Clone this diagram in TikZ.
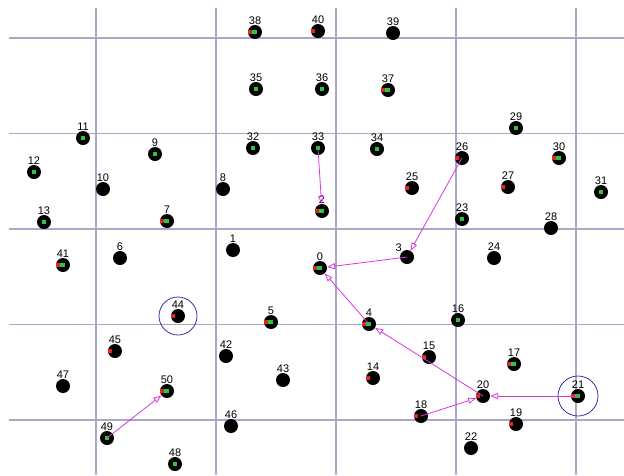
\documentclass[tikz,border=0pt]{standalone}
\usepackage{fontspec}
\setmainfont{Liberation Sans}
\usetikzlibrary{arrows.meta}

\definecolor{gridgray}{RGB}{168,168,200}
\definecolor{linkpink}{RGB}{215,55,225}
\definecolor{ringblue}{RGB}{50,50,170}
\definecolor{spotgreen}{RGB}{40,200,60}
\definecolor{spotred}{RGB}{225,40,30}

\begin{document}
\begin{tikzpicture}[
    x=1pt, y=-1pt,
    gridline/.style={
        gridgray,
        line width=1.1pt
    },
    num/.style={
        font=\fontsize{11}{11}\selectfont,
        inner sep=0pt
    },
    mote/.style={
        circle,
        fill=black,
        minimum size=14pt,
        inner sep=0pt,
        label distance=2pt
    },
    greenmote/.style={
        mote,
        path picture={
            \fill[spotgreen]
                ([shift={(-2.5pt,-2pt)}]path picture bounding box.center)
                rectangle ++(4.5pt,4pt);
        }
    },
    redmote/.style={
        mote,
        path picture={
            \fill[spotred]
                ([shift={(-8pt,-1.8pt)}]path picture bounding box.center)
                rectangle ++(5pt,3.6pt);
        }
    },
    bothmote/.style={
        mote,
        path picture={
            \fill[spotred]
                ([shift={(-8pt,-1.8pt)}]path picture bounding box.center)
                rectangle ++(5pt,3.6pt);
            \fill[spotgreen]
                ([shift={(-3pt,-2pt)}]path picture bounding box.center)
                rectangle ++(4.5pt,4pt);
        }
    },
    link/.style={
        -{Triangle[open,length=8pt,width=6pt]},
        linkpink,
        line width=0.8pt
    },
    ring/.style={
        ringblue,
        line width=0.8pt
    }
]

\useasboundingbox (0,0) rectangle (624,475);

% Ends of the grid lines
\def\GridTop{8}
\def\GridLeft{9}

% ==================================================
% Grid
% ==================================================

\draw[gridline] (96,\GridTop)  -- (96,475);
\draw[gridline] (216,\GridTop) -- (216,475);
\draw[gridline] (336,\GridTop) -- (336,475);
\draw[gridline] (456,\GridTop) -- (456,475);
\draw[gridline] (576,\GridTop) -- (576,475);

\draw[gridline] (\GridLeft,38)    -- (624,38);
\draw[gridline] (\GridLeft,133.5) -- (624,133.5);
\draw[gridline] (\GridLeft,229)   -- (624,229);
\draw[gridline] (\GridLeft,324.5) -- (624,324.5);
\draw[gridline] (\GridLeft,420)   -- (624,420);

% ==================================================
% Sensor nodes
% ==================================================

% top row
\node[bothmote,  label={[num]above:38}] (n38) at (255,32) {};
\node[redmote,   label={[num]above:40}] (n40) at (318,31) {};
\node[mote,      label={[num]above:39}] (n39) at (393,33) {};

\node[greenmote, label={[num]above:35}] (n35) at (256,89) {};
\node[greenmote, label={[num]above:36}] (n36) at (322,89) {};
\node[bothmote,  label={[num]above:37}] (n37) at (388,90) {};

\node[greenmote, label={[num]above:11}] (n11) at (83,138) {};
\node[greenmote, label={[num]above:9}]  (n9)  at (155,154) {};
\node[greenmote, label={[num]above:32}] (n32) at (253,148) {};
\node[greenmote, label={[num]above:33}] (n33) at (318,148) {};
\node[greenmote, label={[num]above:34}] (n34) at (377,149) {};
\node[greenmote, label={[num]above:29}] (n29) at (516,128) {};
\node[redmote,   label={[num]above:26}] (n26) at (462,158) {};
\node[bothmote,  label={[num]above:30}] (n30) at (559,158) {};

% second band
\node[greenmote, label={[num]above:12}] (n12) at (34,172) {};
\node[mote,      label={[num]above:10}] (n10) at (103,189) {};
\node[mote,      label={[num]above:8}]  (n8)  at (223,189) {};
\node[redmote,   label={[num]above:25}] (n25) at (412,188) {};
\node[redmote,   label={[num]above:27}] (n27) at (508,187) {};
\node[greenmote, label={[num]above:31}] (n31) at (601,192) {};
\node[greenmote, label={[num]above:13}] (n13) at (44,222) {};
\node[bothmote,  label={[num]above:7}]  (n7)  at (167,221) {};
\node[bothmote,  label={[num]above:2}]  (n2)  at (322,211) {};
\node[greenmote, label={[num]above:23}] (n23) at (462,219) {};
\node[mote,      label={[num]above:28}] (n28) at (551,228) {};

% middle band
\node[mote,      label={[num]above:1}]  (n1)  at (233,250) {};
\node[mote,      label={[num]above:6}]  (n6)  at (120,258) {};
\node[bothmote,  label={[num]above:41}] (n41) at (63,265) {};
\node[mote,      label={[num]above left:3}] (n3) at (407,257) {};
\node[mote,      label={[num]above:24}] (n24) at (494,258) {};
\node[bothmote,  label={[num]above:0}]  (n0)  at (320,268) {};

\node[redmote,   label={[num]above:44}] (n44) at (178,316) {};
\node[bothmote,  label={[num]above:5}]  (n5)  at (271,322) {};
\node[bothmote,  label={[num]above:4}]  (n4)  at (369,324) {};
\node[greenmote, label={[num]above:16}] (n16) at (458,320) {};

% lower band
\node[redmote,   label={[num]above:45}] (n45) at (115,351) {};
\node[mote,      label={[num]above:42}] (n42) at (226,356) {};
\node[redmote,   label={[num]above:15}] (n15) at (429,357) {};
\node[bothmote,  label={[num]above:17}] (n17) at (514,364) {};
\node[mote,      label={[num]above:47}] (n47) at (63,386) {};
\node[bothmote,  label={[num]above:50}] (n50) at (167,391) {};
\node[mote,      label={[num]above:43}] (n43) at (283,380) {};
\node[redmote,   label={[num]above:14}] (n14) at (373,378) {};
\node[redmote,   label={[num]above:20}] (n20) at (483,396) {};
\node[bothmote,  label={[num]above:21}] (n21) at (578,396) {};

% bottom row
\node[redmote,   label={[num]above:18}] (n18) at (421,416) {};
\node[redmote,   label={[num]above:19}] (n19) at (516,424) {};
\node[mote,      label={[num]above:46}] (n46) at (231,426) {};
\node[greenmote, label={[num]above:49}] (n49) at (107,438) {};
\node[mote,      label={[num]above:22}] (n22) at (471,448) {};
\node[greenmote, label={[num]above:48}] (n48) at (175,464) {};

% ==================================================
% Marked nodes
% ==================================================

\draw[ring] (n44) circle (19pt);
\draw[ring] (n21) circle (20pt);

% ==================================================
% Forwarding links
% ==================================================

\draw[link] (n33.center) -- (n2);
\draw[link] (n26.center) -- (n3);
\draw[link] (n3.center)  -- (n0);
\draw[link] (n4.center)  -- (n0);
\draw[link] (n20.center) -- (n4);
\draw[link] (n21.center) -- (n20);
\draw[link] (n18.center) -- (n20);
\draw[link] (n49.center) -- (n50);

\end{tikzpicture}
\end{document}
